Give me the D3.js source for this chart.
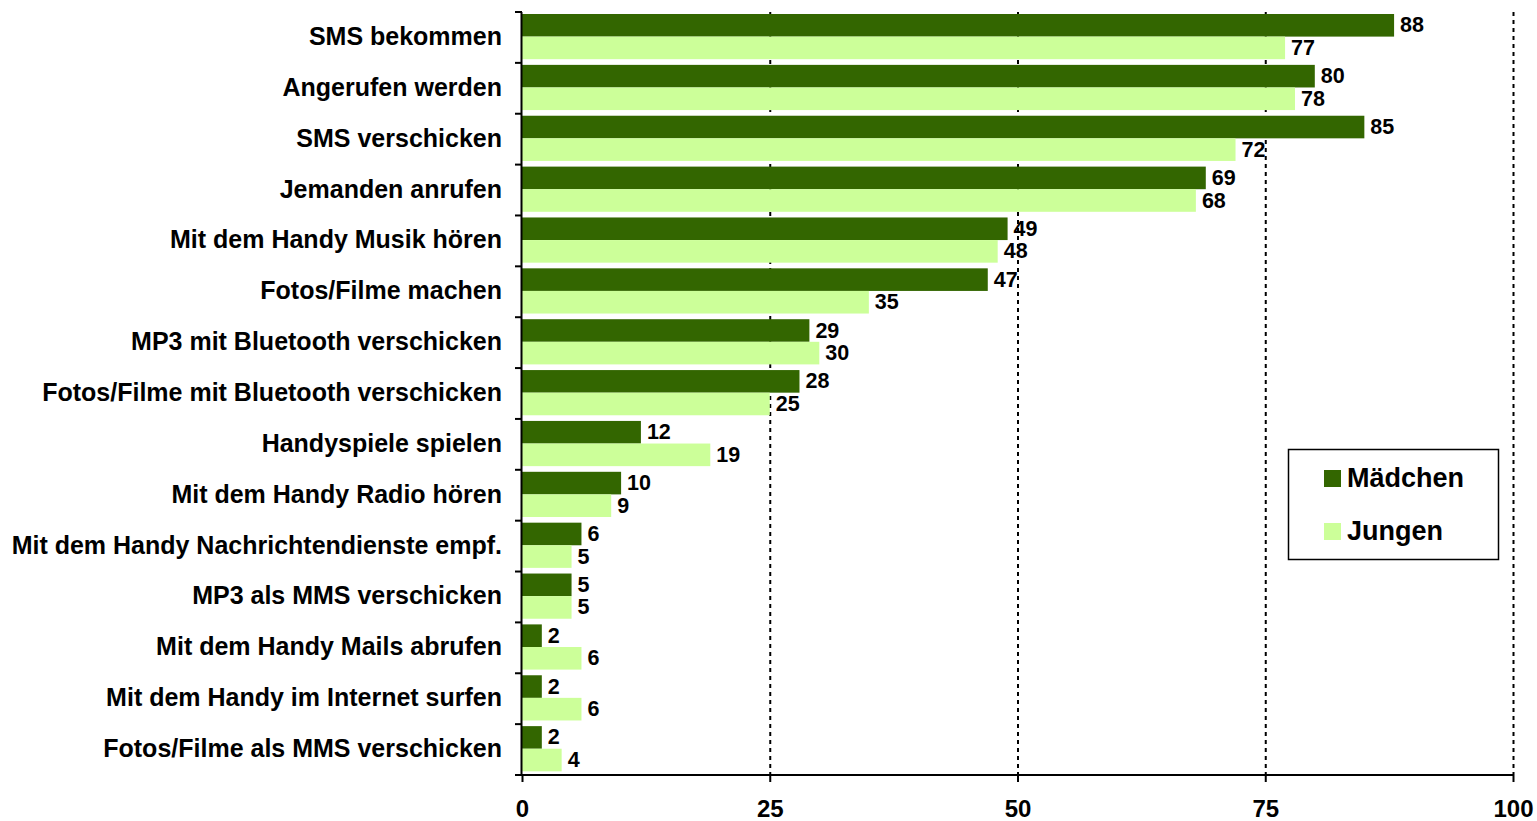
<!DOCTYPE html>
<html><head><meta charset="utf-8">
<script src="https://cdn.jsdelivr.net/npm/d3@7"></script>
<style>body{margin:0;background:#fff}svg{display:block}text{font-family:"Liberation Sans",Arial,sans-serif;font-weight:bold;fill:#000}</style>
</head><body><svg id="c" width="1537" height="821"></svg>
<script>
const categories = ["SMS bekommen","Angerufen werden","SMS verschicken","Jemanden anrufen","Mit dem Handy Musik hören","Fotos/Filme machen","MP3 mit Bluetooth verschicken","Fotos/Filme mit Bluetooth verschicken","Handyspiele spielen","Mit dem Handy Radio hören","Mit dem Handy Nachrichtendienste empf.","MP3 als MMS verschicken","Mit dem Handy Mails abrufen","Mit dem Handy im Internet surfen","Fotos/Filme als MMS verschicken"];
const maedchen = [88,80,85,69,49,47,29,28,12,10,6,5,2,2,2];
const jungen = [77,78,72,68,48,35,30,25,19,9,5,5,6,6,4];
const seriesNames = ["Mädchen","Jungen"];
const colors = ["#336600","#CCFF99"];
const xTicks = [0,25,50,75,100];

(function(){
const svg = d3.select("#c");
const mL = 522, mR = 1513, mT = 12, mB = 775;
const x = d3.scaleLinear().domain([0,100]).range([mL,mR]);
const y = d3.scaleBand().domain(categories).range([mT,mB]).paddingInner(0).paddingOuter(0);
const bw = y.bandwidth();
const barH = 22.6;
const off = 2;

// gridlines
svg.append("g").selectAll("line").data(xTicks.filter(d=>d>0)).join("line")
  .attr("x1",d=>x(d)+0.5).attr("x2",d=>x(d)+0.5).attr("y1",mT).attr("y2",mB)
  .attr("stroke","#000").attr("stroke-width",2).attr("stroke-dasharray","4,4");

const series = [maedchen, jungen];
series.forEach((vals,si)=>{
  const g = svg.append("g");
  g.selectAll("rect").data(vals).join("rect")
    .attr("x",x(0)).attr("y",(d,i)=>y(categories[i])+off+si*barH)
    .attr("width",d=>x(d)-x(0)).attr("height",barH).attr("fill",colors[si]);
  g.selectAll("text").data(vals).join("text")
    .attr("x",d=>x(d)+6).attr("y",(d,i)=>y(categories[i])+off+si*barH+barH/2+7)
    .attr("font-size",21.5).text(d=>d);
});

// y axis
const yAxis = svg.append("g").attr("transform",`translate(${mL-0.5},0)`)
  .call(d3.axisLeft(y).tickSize(0).tickFormat(""));
yAxis.select(".domain").attr("stroke","#000").attr("stroke-width",2).attr("d",`M0,${mT}V${mB}`);
svg.append("g").selectAll("line").data(d3.range(categories.length+1)).join("line")
  .attr("x1",mL-7).attr("x2",mL).attr("y1",i=>mT+i*bw).attr("y2",i=>mT+i*bw)
  .attr("stroke","#000").attr("stroke-width",2);
svg.append("g").selectAll("text").data(categories).join("text")
  .attr("x",502).attr("y",d=>y(d)+bw/2+7.5).attr("text-anchor","end").attr("font-size",25).text(d=>d);

// x axis
const xAxis = svg.append("g").attr("transform",`translate(0,${mB})`)
  .call(d3.axisBottom(x).tickValues(xTicks).tickSize(7));
xAxis.select(".domain").attr("stroke","#000").attr("stroke-width",2).attr("d",`M${mL-7},0H${mR}`);
xAxis.selectAll(".tick line").attr("stroke","#000").attr("stroke-width",2);
xAxis.selectAll(".tick text").attr("y",42).attr("dy",0).attr("font-size",24).attr("font-family","Liberation Sans, Arial, sans-serif").attr("font-weight","bold").attr("fill","#000");

// legend
const lg = svg.append("g");
lg.append("rect").attr("x",1288.5).attr("y",449.5).attr("width",210).attr("height",110).attr("fill","#fff").attr("stroke","#000").attr("stroke-width",1.5);
seriesNames.forEach((n,i)=>{
  lg.append("rect").attr("x",1324).attr("y",470+i*53).attr("width",17).attr("height",17).attr("fill",colors[i]);
  lg.append("text").attr("x",1347).attr("y",487+i*53).attr("font-size",27).text(n);
});
})();
</script></body></html>
